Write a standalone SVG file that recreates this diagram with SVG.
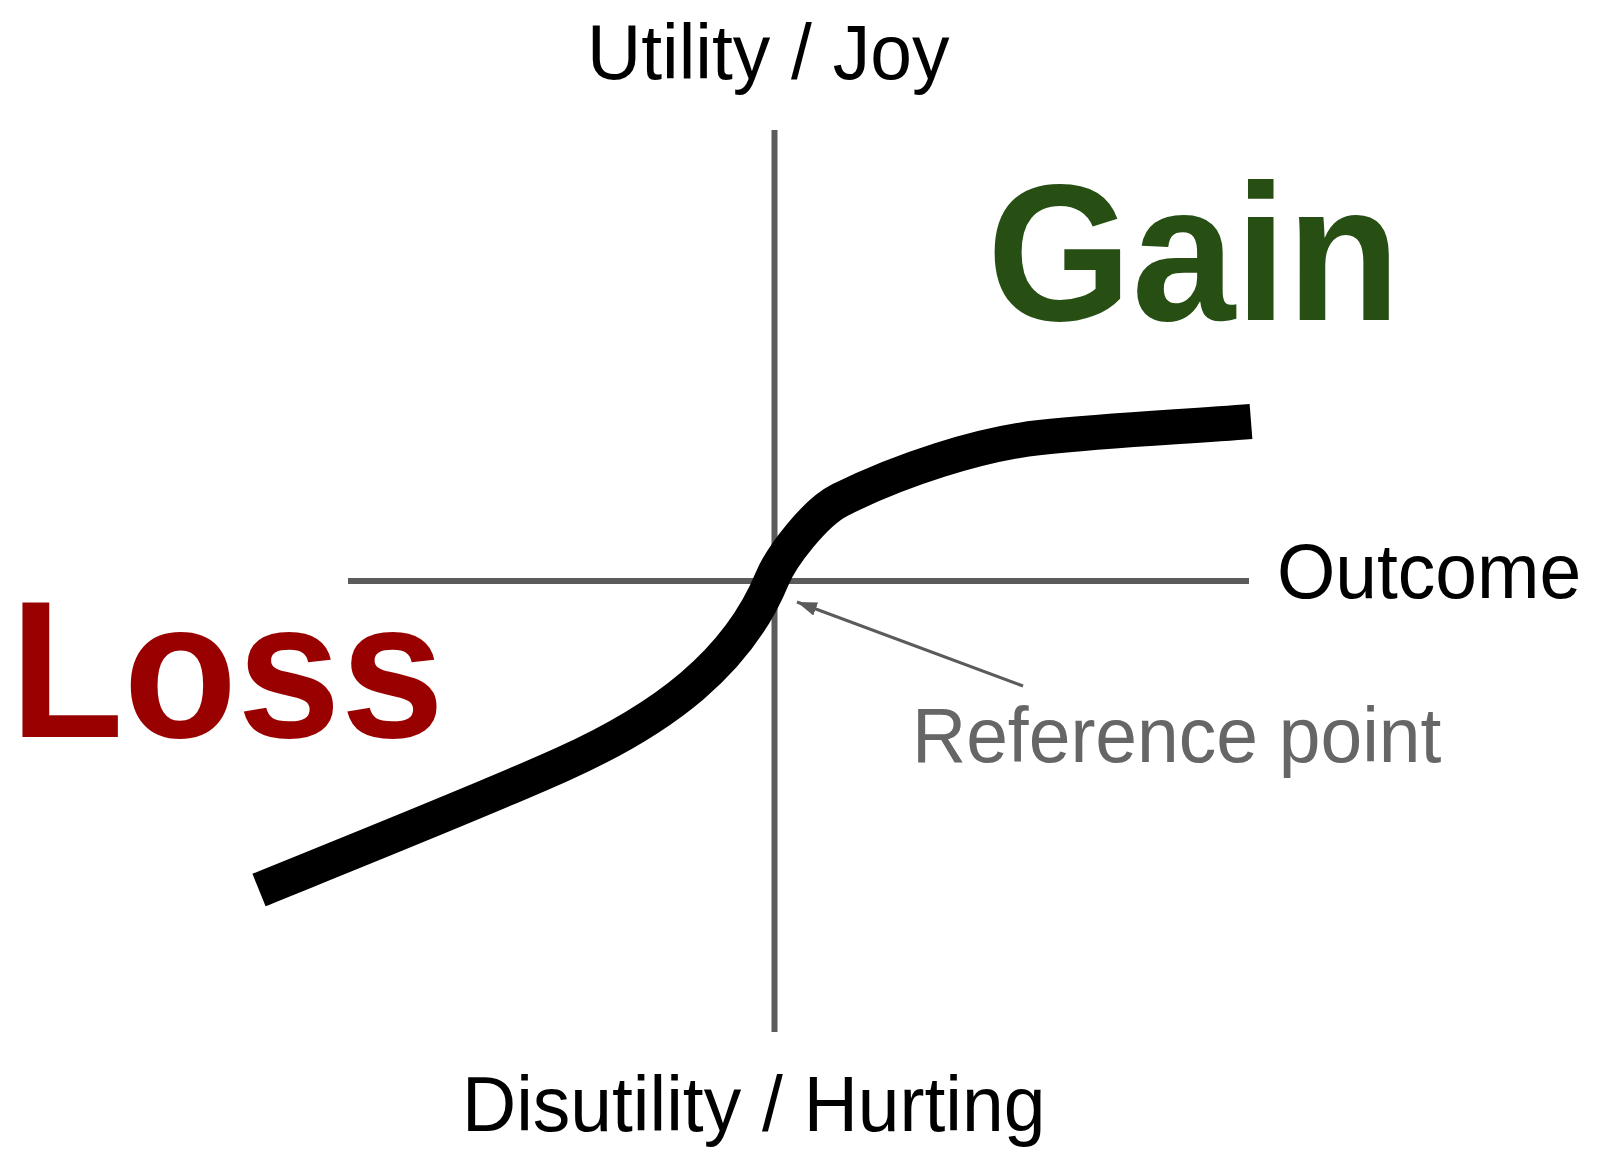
<svg xmlns="http://www.w3.org/2000/svg" width="1603" height="1172" viewBox="0 0 1603 1172">
  <style>
    .lbl { font-family: "Liberation Sans", Arial, sans-serif; font-size: 75px; fill: #000000; }
    .ref { fill: #666666; }
    .big { font-family: "Liberation Sans", Arial, sans-serif; font-size: 186px; font-weight: bold; }
    .axis { stroke: #5b5b5b; stroke-width: 6; fill: none; }
    .curve { stroke: #000000; stroke-width: 35; fill: none; stroke-linecap: butt; }
    .leader { stroke: #5b5b5b; stroke-width: 3; fill: none; }
  </style>
  <defs>
    <marker id="arrow" markerUnits="userSpaceOnUse" markerWidth="20" markerHeight="14" refX="20" refY="7" orient="auto">
      <path d="M0,0 L20,7 L0,14 z" fill="#5b5b5b"/>
    </marker>
  </defs>
  <rect width="1603" height="1172" fill="#ffffff"/>

  <g id="axes">
    <line class="axis" x1="774.5" y1="130" x2="774.5" y2="1032"/>
    <line class="axis" x1="348" y1="581" x2="1249" y2="581"/>
  </g>

  <g id="connectors">
    <path id="value-curve" class="curve" d="M 259 890 C 360 849, 490 797, 563 764 C 663.3 718.9, 737.8 662.3, 772 579 C 781.5 556, 815 512.5, 840 500 C 900 470, 980 444, 1040 437.5 C 1110 430, 1181 427, 1251 421.5"/>
    <line class="leader" x1="1023" y1="686" x2="797" y2="602" marker-end="url(#arrow)"/>
  </g>

  <g id="label-utility">
    <text class="lbl" transform="translate(587,79) scale(1,1.04)">Utility / Joy</text>
  </g>
  <g id="label-disutility">
    <text class="lbl" transform="translate(462,1131) scale(1,1.04)">Disutility / Hurting</text>
  </g>
  <g id="label-outcome">
    <text class="lbl" transform="translate(1277,598) scale(1,1.04)">Outcome</text>
  </g>
  <g id="label-reference">
    <text class="lbl ref" transform="translate(912,762) scale(1,1.04)">Reference point</text>
  </g>
  <g id="label-gain">
    <text class="big" fill="#274e13" transform="translate(987,320) scale(1,1.047)">Gain</text>
  </g>
  <g id="label-loss">
    <text class="big" fill="#990000" transform="translate(10,737) scale(1,1.047)">Loss</text>
  </g>
</svg>
